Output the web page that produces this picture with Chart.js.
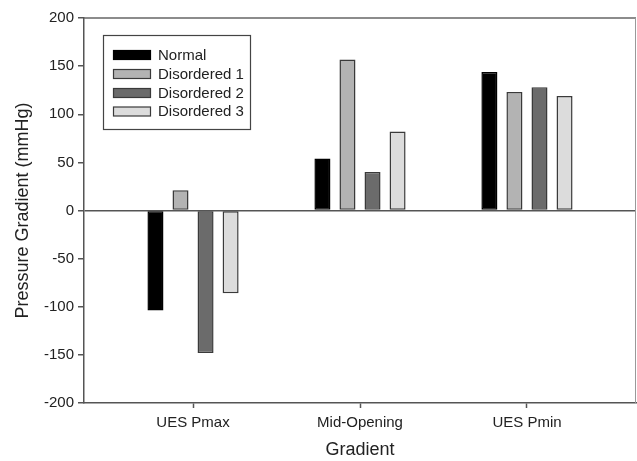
<!DOCTYPE html>
<html>
<head>
<meta charset="utf-8">
<script src="https://cdn.jsdelivr.net/npm/chart.js@4.4.0/dist/chart.umd.min.js"></script>
<style>
  html, body { margin: 0; padding: 0; background: #fff; }
  canvas { display: block; }
</style>
</head>
<body>
<canvas id="c" width="637" height="461"></canvas>
<script>
const categories = ["UES Pmax", "Mid-Opening", "UES Pmin"];
const seriesNames = ["Normal", "Disordered 1", "Disordered 2", "Disordered 3"];
const normal = [-104, 54, 144];
const disordered1 = [21, 157, 123];
const disordered2 = [-148, 40, 128];
const disordered3 = [-86, 82, 119];
const yTicks = [-200, -150, -100, -50, 0, 50, 100, 150, 200];

const fills = ["#000000", "#b3b3b3", "#6b6b6b", "#dcdcdc"];
const borders = ["#000000", "#3a3a3a", "#3a3a3a", "#3a3a3a"];
const FONT = "'Liberation Sans', Arial, sans-serif";

const seriesValues = [normal, disordered1, disordered2, disordered3];

const datasets = seriesNames.map((name, s) => ({
  label: name,
  data: categories.map((c, i) => ({ x: i, y: seriesValues[s][i] })),
  backgroundColor: fills[s],
  borderColor: borders[s],
  borderWidth: 1.5,
  borderSkipped: false,
  categoryPercentage: 0.6,
  barPercentage: 0.64
}));

const frameAndLegend = {
  id: 'frameAndLegend',
  afterDraw(chart) {
    const { ctx, chartArea: a } = chart;
    ctx.save();
    // top frame line
    ctx.strokeStyle = '#666';
    ctx.lineWidth = 1.5;
    ctx.beginPath();
    ctx.moveTo(a.left, a.top);
    ctx.lineTo(a.right, a.top);
    ctx.stroke();
    // right frame line
    ctx.strokeStyle = '#999';
    ctx.lineWidth = 1;
    ctx.beginPath();
    ctx.moveTo(a.right - 0.5, a.top);
    ctx.lineTo(a.right - 0.5, a.bottom);
    ctx.stroke();

    // legend box
    const bx = 103.5, by = 35.5, bw = 147, bh = 94;
    ctx.strokeStyle = '#444';
    ctx.lineWidth = 1.2;
    ctx.fillStyle = '#fff';
    ctx.fillRect(bx, by, bw, bh);
    ctx.strokeRect(bx, by, bw, bh);
    const rows = [55, 74, 93, 111.5];
    chart.data.datasets.forEach((ds, i) => {
      const y = rows[i];
      ctx.fillStyle = ds.backgroundColor;
      ctx.strokeStyle = ds.borderColor;
      ctx.lineWidth = 1.2;
      ctx.fillRect(113.5, y - 4.5, 37, 9);
      ctx.strokeRect(113.5, y - 4.5, 37, 9);
      ctx.fillStyle = '#222';
      ctx.font = '15px ' + FONT;
      ctx.textAlign = 'left';
      ctx.textBaseline = 'middle';
      ctx.fillText(ds.label, 158, y + 0.5);
    });
    ctx.restore();
  }
};

new Chart(document.getElementById('c'), {
  type: 'bar',
  data: { datasets },
  options: {
    responsive: false,
    devicePixelRatio: 1,
    animation: false,
    layout: { padding: { top: 18, right: 1, left: 0, bottom: 0 } },
    plugins: { legend: { display: false }, tooltip: { enabled: false } },
    scales: {
      x: {
        type: 'linear',
        min: -0.653,
        max: 2.653,
        offset: false,
        afterBuildTicks: (scale) => { scale.ticks = categories.map((c, i) => ({ value: i })); },
        afterFit: (scale) => { scale.height = 58; },
        grid: {
          offset: false,
          drawOnChartArea: false,
          drawTicks: true,
          tickLength: 5,
          tickColor: '#555',
          tickWidth: 1.5
        },
        border: { display: true, color: '#555', width: 1.5 },
        ticks: {
          color: '#222',
          font: { family: FONT, size: 15 },
          padding: 6,
          maxRotation: 0,
          autoSkip: false,
          callback: (v) => categories[Math.round(v)]
        },
        title: {
          display: true,
          text: 'Gradient',
          color: '#222',
          font: { family: FONT, size: 18 },
          padding: { top: 0, bottom: 0 }
        }
      },
      y: {
        min: -200,
        max: 200,
        afterBuildTicks: (scale) => { scale.ticks = yTicks.map(v => ({ value: v })); },
        afterFit: (scale) => { scale.width = 84; },
        grid: {
          color: (c) => (c.tick && c.tick.value === 0 ? '#555' : 'rgba(0,0,0,0)'),
          lineWidth: 1.5,
          drawTicks: true,
          tickLength: 6,
          tickColor: '#555',
          tickWidth: 1.5
        },
        border: { display: true, color: '#555', width: 1.5 },
        ticks: {
          color: '#222',
          font: { family: FONT, size: 15 },
          padding: 4,
          callback: (v) => String(v)
        },
        title: {
          display: true,
          text: 'Pressure Gradient (mmHg)',
          color: '#222',
          font: { family: FONT, size: 18 },
          padding: { top: 12, bottom: 0 }
        }
      }
    }
  },
  plugins: [frameAndLegend]
});
</script>
</body>
</html>
